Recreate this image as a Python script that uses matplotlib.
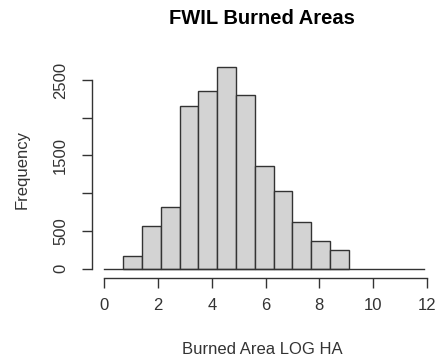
import matplotlib
matplotlib.use("Agg")
import matplotlib.pyplot as plt
import numpy as np

plt.rcParams['font.family'] = ['Liberation Sans', 'DejaVu Sans']

bin_edges = [0.7, 1.4, 2.1, 2.8, 3.5, 4.2, 4.9, 5.6, 6.3, 7.0, 7.7, 8.4, 9.1]
counts = [168, 570, 813, 2155, 2358, 2676, 2301, 1365, 1025, 614, 371, 243]
x_ticks = [0, 2, 4, 6, 8, 10, 12]
y_ticks = [0, 500, 1000, 1500, 2000, 2500]
y_ticklabels = ['0', '500', '', '1500', '', '2500']

W, H = 439, 361
fig = plt.figure(figsize=(W / 100, H / 100), dpi=100)
left_px, right_px = 91.7, 439.0
bottom_px, top_px = 277.5, 60.0
ax = fig.add_axes([left_px / W, 1 - bottom_px / H,
                   (right_px - left_px) / W, (bottom_px - top_px) / H])

pxu = (426.7 - 104.3) / 12
ax.set_xlim((left_px - 104.3) / pxu, (right_px - 104.3) / pxu)
pyu = (268.7 - 80.0) / 2500
ax.set_ylim(-(bottom_px - 268.7) / pyu, (268.7 - top_px) / pyu)

widths = np.diff(bin_edges)
ax.bar(bin_edges[:-1], counts, width=widths, align='edge',
       color='#d3d3d3', edgecolor='#333333', linewidth=1.0)
ax.plot([0, 11.9], [0, 0], color='#333333', linewidth=1.0)

for s in ['top', 'right']:
    ax.spines[s].set_visible(False)
ax.spines['left'].set_bounds(0, 2500)
ax.spines['bottom'].set_bounds(0, 12)
for s in ['left', 'bottom']:
    ax.spines[s].set_color('#333333')
    ax.spines[s].set_linewidth(1.0)

ax.set_xticks(x_ticks)
ax.set_xticklabels([str(t) for t in x_ticks])
ax.set_yticks(y_ticks)
ax.set_yticklabels(y_ticklabels, rotation=90, va='center')
ax.tick_params(axis='both', direction='out', length=7, width=1.0,
               color='#333333', labelsize=12, labelcolor='#333333')
ax.tick_params(axis='x', pad=8)
ax.tick_params(axis='y', pad=10)

fig.text(262 / W, 1 - 18 / H, 'FWIL Burned Areas', ha='center', va='center',
         fontsize=14.5, fontweight='bold', color='black')
fig.text(262 / W, 1 - 350 / H, 'Burned Area LOG HA', ha='center', va='center',
         fontsize=12, color='#333333')
fig.text(22 / W, 1 - 170 / H, 'Frequency', ha='center', va='center',
         fontsize=12, rotation=90, color='#333333')

fig.savefig('out.png', dpi=100)
